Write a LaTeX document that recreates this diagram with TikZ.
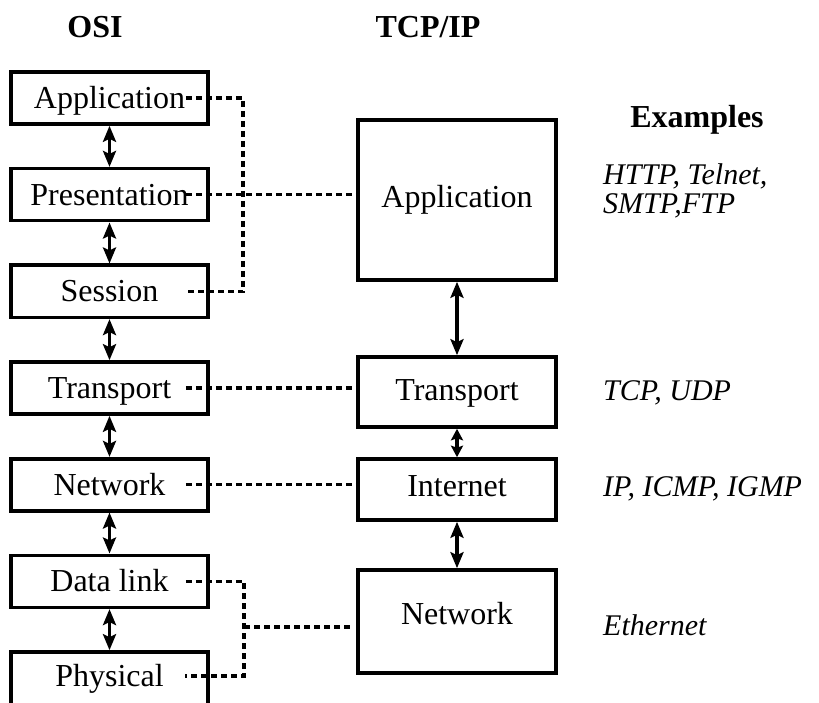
\documentclass[tikz,border=0pt]{standalone}
\usepackage{fontspec}
\setmainfont{Liberation Serif}
\usetikzlibrary{arrows.meta}
\begin{document}
\begin{tikzpicture}[x=1pt,y=-1pt,
  layer/.style={draw, line width=3.6pt, rectangle, inner sep=0pt,
    text height=21.2pt, text depth=0pt, font=\fontsize{32}{38}\selectfont},
  osibox/.style={layer, minimum width=197pt, minimum height=52pt},
  tcpbox/.style={layer, minimum width=198pt},
  headtip/.tip={Stealth[length=16pt,width=13pt,inset=3pt]},
  smalltip/.tip={Stealth[length=11.5pt,width=12pt,inset=2pt]},
  updown/.style={line width=3.6pt, headtip-headtip},
  updown short/.style={line width=3.6pt, smalltip-smalltip},
  peer/.style={line width=3.2pt, dash pattern=on 6pt off 4pt},
  heading/.style={font=\fontsize{32}{38}\selectfont\bfseries, anchor=base, inner sep=0pt},
  example/.style={font=\fontsize{30}{36}\selectfont\itshape, anchor=base west, inner sep=0pt},
]
\useasboundingbox (0,0) rectangle (819,703);
\begin{scope}
\clip (0,0) rectangle (819,703);

% column headings
\node[heading] (hOSI) at (95,38) {OSI};
\node[heading] (hTCP) at (428,38) {TCP/IP};
\node[heading] (hEx)  at (697,127.5) {Examples};

% OSI reference model
\node[osibox] (osiApp)  at (109.5,98)    {Application};
\node[osibox] (osiPres) at (109.5,194.7) {Presentation};
\node[osibox] (osiSes)  at (109.5,291.3) {Session};
\node[osibox] (osiTr)   at (109.5,388)   {Transport};
\node[osibox] (osiNet)  at (109.5,484.7) {Network};
\node[osibox] (osiDL)   at (109.5,581.3) {Data link};
\node[osibox, minimum height=96pt, text depth=48pt] (osiPhy) at (109.5,700) {Physical};

% TCP/IP model
\node[tcpbox, minimum height=160pt, text depth=6pt]  (tcpApp) at (457,200)   {Application};
\node[tcpbox, minimum height=70pt,  text depth=4pt]  (tcpTr)  at (457,392)   {Transport};
\node[tcpbox, minimum height=61pt,  text depth=7pt]  (tcpInt) at (457,489.5) {Internet};
\node[tcpbox, minimum height=103pt, text depth=15pt] (tcpNet) at (457,621.5) {Network};

% protocol examples
\node[example] (exApp1) at (603,185) {HTTP, Telnet,};
\node[example] (exApp2) at (603,214) {SMTP,FTP};
\node[example] (exTr)   at (603,400) {TCP, UDP};
\node[example] (exInt)  at (603,496) {IP, ICMP, IGMP};
\node[example] (exNet)  at (603,635) {Ethernet};

% vertical links between adjacent layers
\draw[updown] (osiApp.south)  -- (osiPres.north);
\draw[updown] (osiPres.south) -- (osiSes.north);
\draw[updown] (osiSes.south)  -- (osiTr.north);
\draw[updown] (osiTr.south)   -- (osiNet.north);
\draw[updown] (osiNet.south)  -- (osiDL.north);
\draw[updown] (osiDL.south)   -- (osiPhy.north);
\draw[updown] (tcpApp.south)  -- (tcpTr.north);
\draw[updown short] (tcpTr.south) -- (tcpInt.north);
\draw[updown] (tcpInt.south)  -- (tcpNet.north);

% correspondence between the two models
\coordinate (dApp)  at ([xshift=-24pt]osiApp.east);
\coordinate (dPres) at ([xshift=-24pt]osiPres.east);
\coordinate (dSes)  at ([xshift=-24pt]osiSes.east);
\coordinate (dTr)   at ([xshift=-24pt]osiTr.east);
\coordinate (dNet)  at ([xshift=-24pt]osiNet.east);
\coordinate (dDL)   at ([xshift=-24pt]osiDL.east);
\coordinate (dPhy)  at (185,676);
\coordinate (busUp) at (243,0);
\coordinate (busLo) at (244,627);

\draw[peer] (dApp) -| (busUp |- dSes) -- (dSes);
\draw[peer] (dPres) -- (dPres -| tcpApp.west);
\draw[peer] (dTr) -- (dTr -| tcpTr.west);
\draw[peer] (dNet) -- (dNet -| tcpInt.west);
\draw[peer] (dDL) -| (busLo |- dPhy) -- (dPhy);
\draw[peer, shorten >=4pt] (busLo) -- (busLo -| tcpNet.west);
\end{scope}
\end{tikzpicture}
\end{document}
